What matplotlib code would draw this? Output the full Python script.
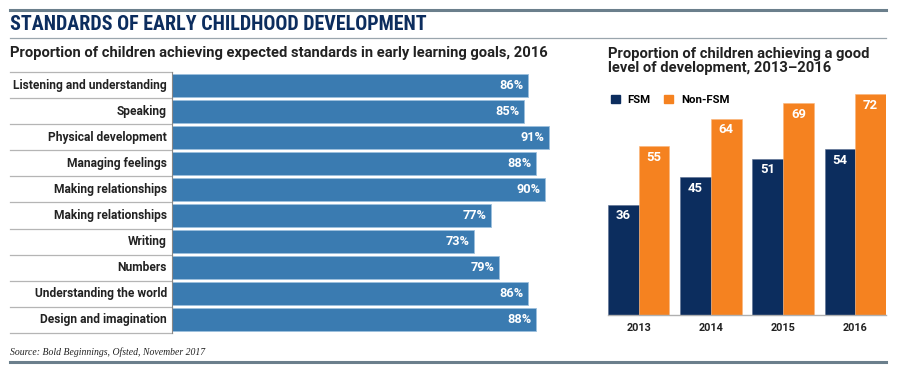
import matplotlib.pyplot as plt
from matplotlib.transforms import blended_transform_factory
from matplotlib.patches import Patch
from matplotlib import font_manager

# data
goals = ["Listening and understanding", "Speaking", "Physical development",
         "Managing feelings", "Making relationships", "Making relationships",
         "Writing", "Numbers", "Understanding the world", "Design and imagination"]
goal_pct = [86, 85, 91, 88, 90, 77, 73, 79, 86, 88]

years = ["2013", "2014", "2015", "2016"]
fsm = [36, 45, 51, 54]
non_fsm = [55, 64, 69, 72]

navy = "#0c2d5e"
steel = "#3a7bb1"
orange = "#f58220"
rule = "#6b7f8c"

names = {f.name for f in font_manager.fontManager.ttflist}
cond = "Roboto"
for c in ["Liberation Sans Narrow", "DejaVu Sans Condensed", "Roboto Condensed", "Open Sans Condensed"]:
    if c in names:
        cond = c
        break
sans = "Roboto"

W, H = 900, 368
fig = plt.figure(figsize=(9, 3.68), dpi=100)
fig.patch.set_facecolor("white")
renderer = fig.canvas.get_renderer()


def fx(px):
    return px / W


def fy(py):
    return 1 - py / H


def fit(t, width):
    # scale font size so the first line is about `width` pixels wide
    s = t.get_text()
    first = s.split("\n")[0]
    t.set_text(first)
    w = t.get_window_extent(renderer).width
    t.set_text(s)
    t.set_fontsize(t.get_fontsize() * width / w)
    return t.get_fontsize()


# header rules and titles
fig.add_artist(plt.Line2D([fx(10), fx(886)], [fy(10), fy(10)], color=rule, lw=2.2))
fig.add_artist(plt.Line2D([fx(10), fx(886)], [fy(38), fy(38)], color="#9aa5ad", lw=0.9))
t = fig.text(fx(10), fy(25), "STANDARDS OF EARLY CHILDHOOD DEVELOPMENT", family=cond,
             weight="bold", size=16.5, color=navy, va="center", ha="left")
fit(t, 415)
t = fig.text(fx(10), fy(53), "Proportion of children achieving expected standards in early learning goals, 2016",
             family=sans, weight="bold", size=10.6, color="#222222", va="center")
fit(t, 538)
t = fig.text(fx(608), fy(61), "Proportion of children achieving a good\nlevel of development, 2013\u20132016",
             family=sans, weight="bold", size=10.6, color="#222222", va="center", linespacing=1.0)
fit(t, 261)

# left panel: horizontal bars
top, bot = 72, 333
ax = fig.add_axes([fx(172), fy(bot), fx(586 - 172), (bot - top) / H])
y = list(range(len(goals)))
ax.barh(y, goal_pct, height=0.88, color=steel, edgecolor="#9cc0dd", linewidth=0.6)
ax.set_xlim(0, 100)
ax.set_ylim(len(goals) - 0.5, -0.5)
ax.axis("off")
tr = blended_transform_factory(ax.transAxes, ax.transData)
left_frac = -(172 - 10) / (586 - 172)
t = ax.text(0, 0, goals[0], family=sans, weight="bold", size=8.6)
lab_size = fit(t, 153)
t.remove()
t = ax.text(0, 0, "86%", family=sans, weight="bold", size=8.6)
pct_size = fit(t, 24)
t.remove()
for i, (g, v) in enumerate(zip(goals, goal_pct)):
    ax.text(-0.012, i, g, transform=tr, ha="right", va="center", family=sans,
            weight="bold", size=lab_size, color="#222222")
    ax.text(v - 1.1, i, f"{v}%", ha="right", va="center", family=sans,
            weight="bold", size=pct_size, color="white")
for yy in [i - 0.5 for i in range(len(goals) + 1)]:
    ax.plot([left_frac, 0], [yy, yy], transform=tr, color="#b5b5b5", lw=0.9, clip_on=False)
ax.plot([0, 0], [-0.5, len(goals) - 0.5], color="#888888", lw=0.8, clip_on=False)

# right panel: grouped bars
base, ytop = 315, 85
ax2 = fig.add_axes([fx(608), fy(base), fx(886 - 608), (base - ytop) / H])
x = list(range(len(years)))
w = 0.424
b1 = ax2.bar([i - w / 2 for i in x], fsm, width=w, color=navy, edgecolor="#5a6f90", linewidth=0.4)
b2 = ax2.bar([i + w / 2 for i in x], non_fsm, width=w, color=orange, edgecolor="#f9b47a", linewidth=0.4)
ax2.set_xlim(-w, len(years) - 1 + w)
ax2.set_ylim(0, 75)
t = ax2.text(0, 0, "36", family=sans, weight="bold", size=9)
val_size = fit(t, 15)
t.remove()
for bars, vals in ((b1, fsm), (b2, non_fsm)):
    for r, v in zip(bars, vals):
        ax2.annotate(str(v), (r.get_x() + r.get_width() / 2, v), xytext=(0, -8),
                     textcoords="offset points", ha="center", va="center",
                     family=sans, weight="bold", size=val_size, color="white")
for s in ("top", "right", "left"):
    ax2.spines[s].set_visible(False)
ax2.spines["bottom"].set_color("#b0b0b0")
ax2.spines["bottom"].set_linewidth(1.0)
ax2.set_yticks([])
ax2.set_xticks(x)
t = ax2.text(0, 0, "2013", family=sans, weight="bold", size=9)
yr_size = fit(t, 25)
t.remove()
ax2.set_xticklabels(years, family=sans, weight="bold", size=yr_size, color="#222222")
ax2.tick_params(axis="x", length=0, pad=6)
ax2.patch.set_alpha(0)
t = ax2.text(0, 0, "Non-FSM", family=sans, weight="bold", size=9)
leg_size = fit(t, 48)
t.remove()
leg = ax2.legend([Patch(color=navy), Patch(color=orange)], ["FSM", "Non-FSM"],
                 loc="center left", bbox_to_anchor=(fx(601), fy(100)),
                 bbox_transform=fig.transFigure, ncol=2, frameon=False,
                 handlelength=0.75, handleheight=0.75, handletextpad=0.7,
                 columnspacing=1.2, prop={"family": sans, "weight": "bold", "size": leg_size})

# footer
t = fig.text(fx(10), fy(352), "Source: Bold Beginnings, Ofsted, November 2017", family="Liberation Serif",
             style="italic", size=8.2, color="#222222", va="center")
fit(t, 194)
fig.add_artist(plt.Line2D([fx(10), fx(886)], [fy(362), fy(362)], color=rule, lw=2.2))

fig.savefig("out.png", dpi=100)
